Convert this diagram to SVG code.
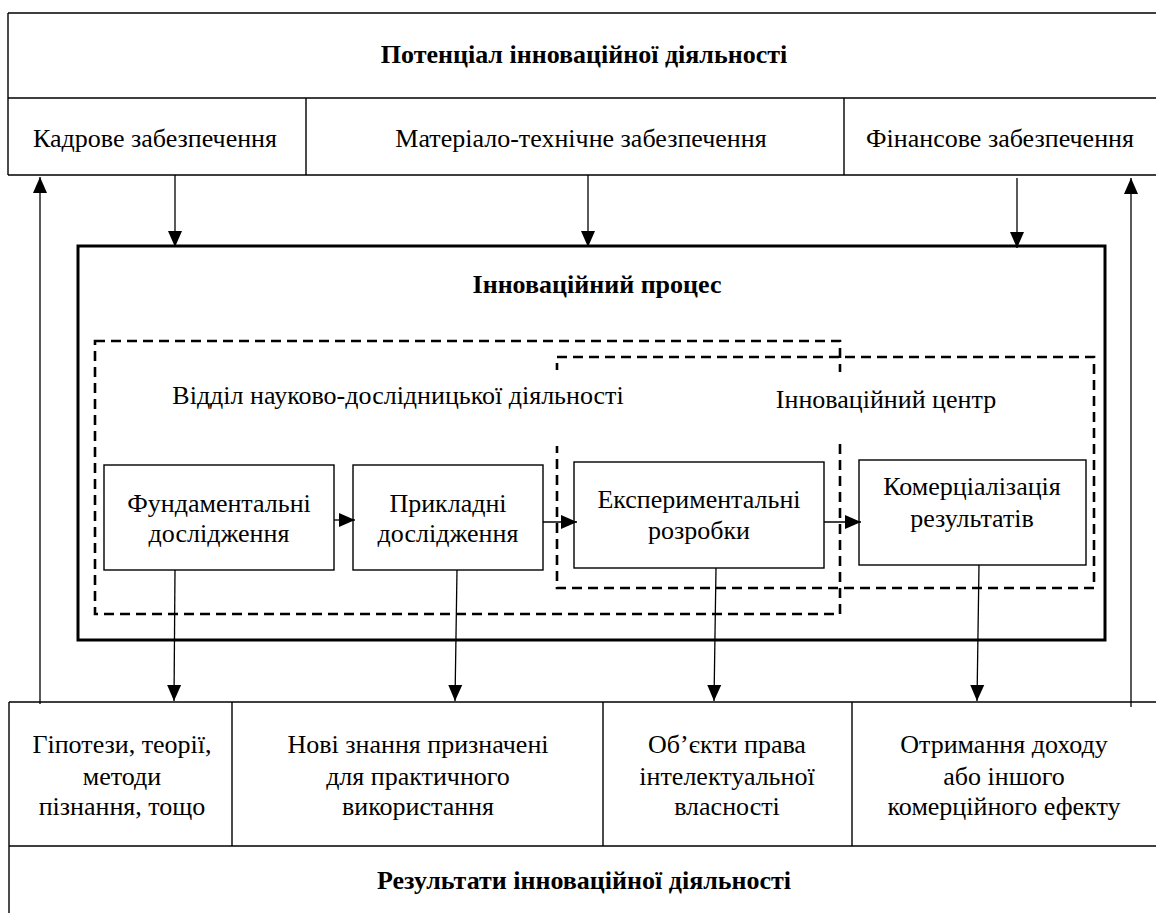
<svg xmlns="http://www.w3.org/2000/svg" width="1156" height="913" viewBox="0 0 1156 913">
<defs>
<style>
text{font-family:Liberation Serif,Times New Roman,DejaVu Serif,serif}
.t{font-size:26px;fill:#000;text-anchor:middle}
.b{font-weight:bold}
.thin{stroke:#000;stroke-width:1.4;fill:none}
.box{stroke:#000;stroke-width:1.4;fill:#fff}
.dash{stroke:#000;stroke-width:2.6;fill:none;stroke-dasharray:10,6}
.con{stroke:#000;stroke-width:1.3;fill:none}
</style>
<marker id="ah" markerUnits="userSpaceOnUse" markerWidth="16" markerHeight="16" viewBox="0 0 16 16" refX="16" refY="8" orient="auto">
<path d="M0,1 L16,8 L0,15 Z" fill="#000"/>
</marker>
</defs>
<rect width="1156" height="913" fill="#fff"/>

<g id="potential">
<path class="thin" d="M8,13 H1156 M8,13 V175 M8,98 H1156 M8,175 H1156 M306,98 V175 M844,98 V175"/>
<text class="t b" x="584" y="63" font-family="Liberation Serif">Потенціал інноваційної діяльності</text>
</g>
<g id="kadrove"><text class="t" x="155" y="147">Кадрове забезпечення</text></g>
<g id="material"><text class="t" x="581" y="147">Матеріало-технічне забезпечення</text></g>
<g id="finance"><text class="t" x="1000" y="147">Фінансове забезпечення</text></g>

<g id="process">
<rect x="78" y="246" width="1027" height="394" fill="none" stroke="#000" stroke-width="3"/>
<text class="t b" x="597" y="293">Інноваційний процес</text>
</g>

<g id="rnd-dept">
<rect class="dash" x="95" y="341" width="745" height="273"/>
</g>
<g id="innov-center">
<rect class="dash" x="557" y="357" width="537" height="231"/>
</g>
<rect x="150" y="370" width="500" height="76" fill="#fff"/>
<rect x="760" y="372" width="320" height="72" fill="#fff"/>
<text class="t" x="398" y="404">Відділ науково-дослідницької діяльності</text>
<text class="t" x="886" y="408">Інноваційний центр</text>

<g id="fundamental">
<rect class="box" x="104" y="465" width="230" height="105"/>
<text class="t" x="219" y="512">Фундаментальні</text>
<text class="t" x="219" y="542">дослідження</text>
</g>
<g id="applied">
<rect class="box" x="353" y="465" width="190" height="105"/>
<text class="t" x="448" y="512">Прикладні</text>
<text class="t" x="448" y="542">дослідження</text>
</g>
<g id="experimental">
<rect class="box" x="574" y="462" width="250" height="106"/>
<text class="t" x="699" y="508">Експериментальні</text>
<text class="t" x="699" y="539">розробки</text>
</g>
<g id="commercial">
<rect class="box" x="859" y="460" width="227" height="105"/>
<text class="t" x="972" y="495">Комерціалізація</text>
<text class="t" x="972" y="527">результатів</text>
</g>

<g id="results">
<path class="thin" d="M9,702 H1156 M9,702 V913 M9,846 H1156 M232,702 V846 M603,702 V846 M852,702 V846"/>
<text class="t b" x="584" y="889">Результати інноваційної діяльності</text>
</g>
<g id="hypotheses">
<text class="t" x="122" y="753">Гіпотези, теорії,</text>
<text class="t" x="122" y="785">методи</text>
<text class="t" x="122" y="815">пізнання, тощо</text>
</g>
<g id="knowledge">
<text class="t" x="418" y="753">Нові знання призначені</text>
<text class="t" x="418" y="785">для практичного</text>
<text class="t" x="418" y="815">використання</text>
</g>
<g id="ip">
<text class="t" x="727" y="753">Об’єкти права</text>
<text class="t" x="727" y="785">інтелектуальної</text>
<text class="t" x="727" y="815">власності</text>
</g>
<g id="income">
<text class="t" x="1004" y="753">Отримання доходу</text>
<text class="t" x="1004" y="785">або іншого</text>
<text class="t" x="1004" y="815">комерційного ефекту</text>
</g>

<g id="connectors">
<line class="con" x1="175" y1="175" x2="175" y2="247" marker-end="url(#ah)"/>
<line class="con" x1="588" y1="175" x2="588" y2="247" marker-end="url(#ah)"/>
<line class="con" x1="1017" y1="178" x2="1017" y2="248" marker-end="url(#ah)"/>
<line class="con" x1="40" y1="704" x2="40" y2="177" marker-end="url(#ah)"/>
<line class="con" x1="1131" y1="707" x2="1131" y2="178" marker-end="url(#ah)"/>
<line class="con" x1="334" y1="520" x2="355" y2="520" marker-end="url(#ah)"/>
<line class="con" x1="543" y1="522" x2="577" y2="522" marker-end="url(#ah)"/>
<line class="con" x1="824" y1="522" x2="861" y2="522" marker-end="url(#ah)"/>
<line class="con" x1="175" y1="570" x2="174" y2="701" marker-end="url(#ah)"/>
<line class="con" x1="457" y1="570" x2="455" y2="701" marker-end="url(#ah)"/>
<line class="con" x1="716" y1="568" x2="714" y2="701" marker-end="url(#ah)"/>
<line class="con" x1="979" y1="565" x2="977" y2="701" marker-end="url(#ah)"/>
</g>
</svg>
